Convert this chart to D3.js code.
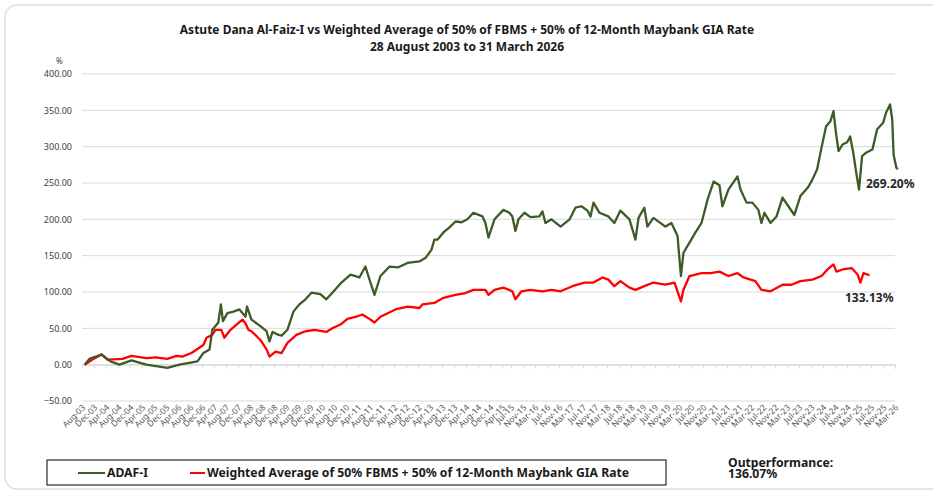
<!DOCTYPE html>
<html lang="en">
<head>
<meta charset="utf-8">
<title>ADAF-I vs benchmark</title>
<script src="https://cdnjs.cloudflare.com/ajax/libs/d3/7.8.5/d3.min.js"></script>
<style>
  body { margin: 0; background: #fff; }
  svg { display: block; font-family: "Noto Sans", "DejaVu Sans", sans-serif; }
</style>
</head>
<body>
<script>
// ---- data ----
var adafDates = ["2003-08-28","2003-10-15","2004-02-15","2004-05-15","2004-08-15","2004-12-15","2005-05-15","2005-12-15","2006-04-15","2006-10-15","2006-12-15","2007-02-15","2007-03-15","2007-05-15","2007-06-10","2007-07-01","2007-08-15","2007-10-15","2007-12-15","2008-02-15","2008-03-01","2008-04-15","2008-07-15","2008-09-15","2008-10-15","2008-11-15","2009-01-15","2009-02-15","2009-04-15","2009-06-15","2009-08-15","2009-10-15","2009-12-15","2010-03-15","2010-05-15","2010-07-15","2010-10-15","2011-01-15","2011-04-15","2011-06-15","2011-07-15","2011-09-15","2011-11-15","2012-02-15","2012-05-15","2012-08-15","2012-12-15","2013-02-15","2013-04-15","2013-05-15","2013-06-15","2013-08-15","2013-10-15","2013-12-15","2014-02-15","2014-04-15","2014-06-15","2014-09-15","2014-10-15","2014-11-15","2015-01-15","2015-04-15","2015-06-15","2015-07-15","2015-08-15","2015-09-15","2015-11-15","2016-01-15","2016-04-15","2016-05-15","2016-06-15","2016-08-15","2016-11-15","2017-02-15","2017-04-15","2017-06-15","2017-08-15","2017-09-15","2017-10-15","2017-12-15","2018-03-15","2018-05-15","2018-07-15","2018-10-15","2018-12-15","2019-01-15","2019-03-15","2019-04-15","2019-06-15","2019-10-15","2019-12-15","2020-02-15","2020-03-20","2020-04-15","2020-06-15","2020-08-15","2020-10-15","2020-12-15","2021-02-15","2021-04-15","2021-05-15","2021-07-15","2021-10-15","2021-11-15","2022-01-15","2022-03-15","2022-05-15","2022-06-15","2022-07-15","2022-09-15","2022-11-15","2023-01-15","2023-03-15","2023-05-15","2023-07-15","2023-10-01","2023-11-15","2024-01-01","2024-02-15","2024-04-01","2024-05-15","2024-06-15","2024-07-10","2024-08-05","2024-09-15","2024-11-01","2024-12-01","2025-01-01","2025-02-01","2025-03-01","2025-04-01","2025-05-15","2025-07-15","2025-09-01","2025-11-01","2025-12-01","2026-01-10","2026-02-01","2026-02-15","2026-03-15","2026-03-31"];
var adafValues = [0,8,14,4.5,0,6,0,-4.5,0,4.5,16,21,48,58,83,60,71,73,76,66,80,62,53,46,32,45,41,40,48,73,83,90,99,97,90,99,113,124,120,135,122,96,122,135,134,140,142,147,158,172,172,182,189,197,196,200,209,204,195,175,200,213,209,204,184,200,209,203,204,211,195,200,190,200,216,218,212,204,223,209,204,195,212,200,172,202,216,190,202,190,195,177,122,154,168,182,195,227,252,247,218,241,259,241,223,223,213,195,209,195,204,230,218,206,232,244,255,269,299,328,335,349,319,294,303,306,314,292,264,241,287,292,296,324,333,347,358,337,289,271,269.2];

var benchDates = ["2003-08-28","2003-11-15","2004-02-15","2004-04-15","2004-09-15","2004-12-15","2005-05-15","2005-08-15","2005-12-15","2006-03-15","2006-05-15","2006-08-15","2006-12-15","2007-01-15","2007-03-15","2007-04-15","2007-06-15","2007-07-15","2007-09-15","2008-01-15","2008-02-15","2008-03-15","2008-04-15","2008-07-15","2008-09-15","2008-10-15","2008-12-15","2009-02-15","2009-04-15","2009-07-15","2009-10-15","2010-01-15","2010-05-15","2010-07-15","2010-10-15","2010-12-15","2011-03-15","2011-05-15","2011-07-15","2011-09-15","2011-11-15","2012-04-15","2012-08-15","2012-12-15","2013-01-15","2013-05-15","2013-08-15","2013-12-15","2014-03-15","2014-06-15","2014-10-15","2014-11-15","2015-01-15","2015-04-15","2015-07-15","2015-08-15","2015-10-15","2016-01-15","2016-05-15","2016-08-15","2016-11-15","2017-03-15","2017-07-15","2017-10-15","2018-01-15","2018-03-15","2018-05-15","2018-07-15","2018-10-15","2018-12-15","2019-03-15","2019-06-15","2019-10-15","2020-01-15","2020-03-20","2020-04-15","2020-06-15","2020-10-15","2021-01-15","2021-04-15","2021-07-15","2021-10-15","2021-12-15","2022-04-15","2022-06-15","2022-09-15","2023-01-15","2023-04-15","2023-07-15","2023-11-15","2024-02-15","2024-04-15","2024-06-15","2024-07-15","2024-09-15","2024-12-15","2025-02-15","2025-03-15","2025-04-15","2025-06-15"];
var benchValues = [0,7,14,7,8,12,9,10,8,12,11,16,27,37,41,48,48,37,48,62,57,48,46,34,21,11,18,16,30,41,46,48,45,50,56,63,66,69,64,58,66,76,80,78,83,85,92,96,98,103,103,96,103,106,101,90,101,103,101,103,101,108,113,113,120,117,108,115,106,103,108,113,110,113,87,103,122,126,126,128,122,126,120,115,103,101,110,110,115,117,122,131,138,128,131,133,124,113,126,123];

var yTicks = [-50, 0, 50, 100, 150, 200, 250, 300, 350, 400];
var xTickLabels = ["Aug-03","Dec-03","Apr-04","Aug-04","Dec-04","Apr-05","Aug-05","Dec-05","Apr-06","Aug-06","Dec-06","Apr-07","Aug-07","Dec-07","Apr-08","Aug-08","Dec-08","Apr-09","Aug-09","Dec-09","Apr-10","Aug-10","Dec-10","Apr-11","Aug-11","Dec-11","Apr-12","Aug-12","Dec-12","Apr-13","Aug-13","Dec-13","Apr-14","Aug-14","Dec-14","Apr-15","Jul-15","Nov-15","Mar-16","Jul-16","Nov-16","Mar-17","Jul-17","Nov-17","Mar-18","Jul-18","Nov-18","Mar-19","Jul-19","Nov-19","Mar-20","Jul-20","Nov-20","Mar-21","Jul-21","Nov-21","Mar-22","Jul-22","Nov-22","Mar-23","Jul-23","Nov-23","Mar-24","Jul-24","Nov-24","Mar-25","Jul-25","Nov-25","Mar-26"];

var seriesNames = ["ADAF-I", "Weighted Average of 50% FBMS + 50% of 12-Month Maybank GIA Rate"];
var seriesColors = ["#3c5b26", "#ff0000"];
var endLabels = ["269.20%", "133.13%"];
var outperformance = "136.07%";

var w = 933, h = 492;
var plotL = 82, plotR = 895, plotT = 74, plotB = 401;

var parseDay = d3.timeParse("%Y-%m-%d");
var parseTick = d3.timeParse("%b-%y");

var svg = d3.select("body").append("svg")
    .attr("width", w)
    .attr("height", h);

// card frame
svg.append("rect")
    .attr("x", 5).attr("y", 5)
    .attr("width", 945).attr("height", 484)
    .attr("rx", 12)
    .attr("fill", "none")
    .attr("stroke", "#d3e6d0")
    .attr("stroke-width", 1.5);

var x = d3.scaleTime()
    .domain([parseTick("Aug-03"), parseTick("Mar-26")])
    .range([plotL, plotR]);
var y = d3.scaleLinear()
    .domain([-50, 400])
    .range([plotB, plotT]);

// title
svg.append("text")
    .attr("x", 467).attr("y", 34)
    .attr("text-anchor", "middle")
    .attr("font-size", "12px").attr("font-weight", "bold")
    .attr("fill", "#1a1a1a")
    .text("Astute Dana Al-Faiz-I vs Weighted Average of 50% of FBMS + 50% of 12-Month Maybank GIA Rate");
svg.append("text")
    .attr("x", 467).attr("y", 51)
    .attr("text-anchor", "middle")
    .attr("font-size", "12px").attr("font-weight", "bold")
    .attr("fill", "#1a1a1a")
    .text("28 August 2003 to 31 March 2026");

svg.append("text")
    .attr("x", 56).attr("y", 64)
    .attr("font-size", "8px").attr("fill", "#404040")
    .text("%");

// gridlines
svg.append("g").selectAll("line")
    .data(yTicks)
    .enter().append("line")
    .attr("x1", plotL).attr("x2", plotR)
    .attr("y1", function(d) { return y(d); })
    .attr("y2", function(d) { return y(d); })
    .attr("stroke", "#d9d9d9")
    .attr("stroke-width", 1);

// y axis labels
var yAxis = svg.append("g")
    .attr("transform", "translate(" + plotL + ",0)")
    .call(d3.axisLeft(y).tickValues(yTicks).tickFormat(d3.format(".2f")).tickSize(0).tickPadding(10));
yAxis.select(".domain").remove();
yAxis.selectAll("text")
    .attr("font-family", "\"Noto Sans\", sans-serif")
    .attr("font-size", "9px")
    .attr("fill", "#404040");

// x axis: tick marks on the zero line, labels at the bottom
var tickDates = xTickLabels.map(function(s) { return parseTick(s); });
var xAxis = svg.append("g")
    .attr("transform", "translate(0," + y(0) + ")")
    .call(d3.axisBottom(x).tickValues(tickDates).tickSize(4).tickFormat(""));
xAxis.select(".domain").attr("stroke", "#d9d9d9");
xAxis.selectAll(".tick line").attr("stroke", "#d9d9d9");

svg.append("g").selectAll("text")
    .data(xTickLabels)
    .enter().append("text")
    .attr("transform", function(d) {
        return "translate(" + (x(parseTick(d)) + 4) + "," + (plotB + 7) + ") rotate(-45)";
    })
    .attr("text-anchor", "end")
    .attr("font-size", "8.5px")
    .attr("fill", "#595959")
    .text(function(d) { return d; });

// lines
var line = d3.line()
    .x(function(d) { return x(d[0]); })
    .y(function(d) { return y(d[1]); });

var series = [
    d3.zip(benchDates.map(parseDay), benchValues),
    d3.zip(adafDates.map(parseDay), adafValues)
];
var order = [1, 0];

svg.append("g").selectAll("path")
    .data(series)
    .enter().append("path")
    .attr("d", line)
    .attr("fill", "none")
    .attr("stroke", function(d, i) { return seriesColors[order[i]]; })
    .attr("stroke-width", 2.3)
    .attr("stroke-linejoin", "round");

// end value labels
svg.append("text")
    .attr("x", 866).attr("y", 188)
    .attr("font-size", "12px").attr("font-weight", "bold")
    .attr("fill", "#262626")
    .text(endLabels[0]);
svg.append("text")
    .attr("x", 845).attr("y", 302)
    .attr("font-size", "12px").attr("font-weight", "bold")
    .attr("fill", "#262626")
    .text(endLabels[1]);

// legend
svg.append("rect")
    .attr("x", 47).attr("y", 460)
    .attr("width", 619).attr("height", 25)
    .attr("fill", "#fff")
    .attr("stroke", "#000")
    .attr("stroke-width", 1);

var legendX = [78, 190];
var lg = svg.append("g").selectAll("g")
    .data(seriesNames)
    .enter().append("g")
    .attr("transform", function(d, i) { return "translate(" + legendX[i] + ",473)"; });
lg.append("line")
    .attr("x1", 0).attr("x2", function(d, i) { return i ? 15 : 27; })
    .attr("stroke", function(d, i) { return seriesColors[i]; })
    .attr("stroke-width", 2);
lg.append("text")
    .attr("x", function(d, i) { return i ? 17 : 29; }).attr("y", 4)
    .attr("font-size", "12.2px").attr("font-weight", "bold")
    .attr("fill", "#1a1a1a")
    .text(function(d) { return d; });

svg.append("text")
    .attr("x", 728).attr("y", 467)
    .attr("font-size", "12.2px").attr("font-weight", "bold")
    .attr("fill", "#1a1a1a")
    .text("Outperformance:");
svg.append("text")
    .attr("x", 728).attr("y", 478)
    .attr("font-size", "12.2px").attr("font-weight", "bold")
    .attr("fill", "#1a1a1a")
    .text(outperformance);
</script>
</body>
</html>
